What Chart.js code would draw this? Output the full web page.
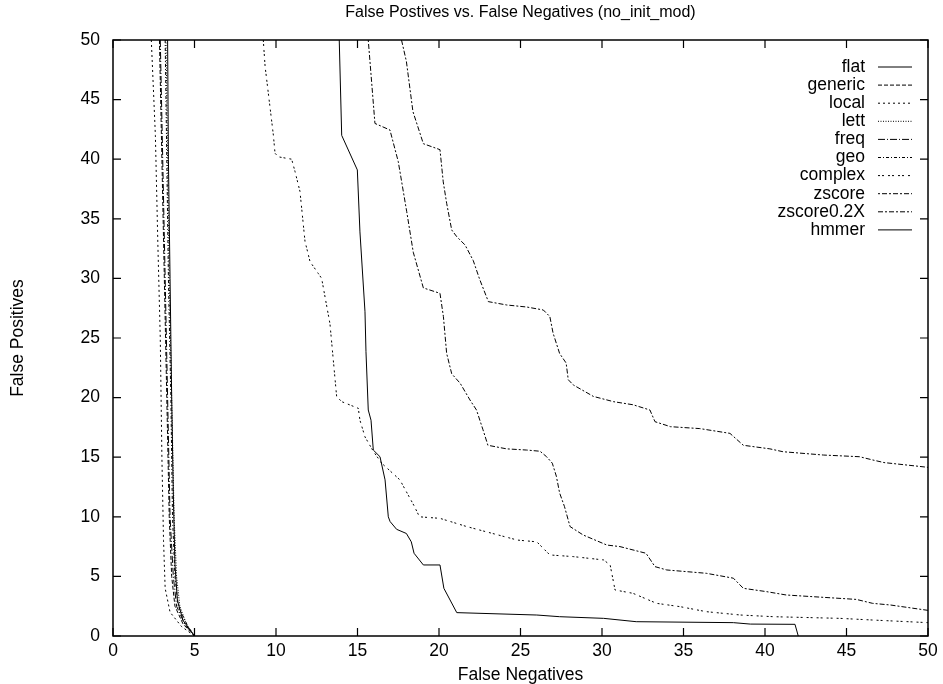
<!DOCTYPE html>
<html><head><meta charset="utf-8">
<script src="https://cdn.jsdelivr.net/npm/chart.js@4.4.1/dist/chart.umd.min.js"></script>
<style>html,body{margin:0;padding:0;background:#fff;}canvas{display:block;}</style>
</head><body>
<canvas id="c" width="943" height="684"></canvas>
<script>
// ---- data (False Negatives = x, False Positives = y) ----
const chartTitle = "False Postives vs. False Negatives (no_init_mod)";
const xAxisTitle = "False Negatives";
const yAxisTitle = "False Positives";
const tickValues = [0,5,10,15,20,25,30,35,40,45,50];

const flatFN = [3.35,3.4,3.5,3.6,3.7,3.8,3.95,4.3,5];
const flatFP = [50,40,30,20,12,6,3,1.3,0];
const genericFN = [2.85,3.0,3.15,3.3,3.45,3.6,3.8,4.3,5];
const genericFP = [50,40,30,20,10,5,2.5,1,0];
const localFN = [2.35,2.6,2.75,2.9,3.0,3.1,3.2,3.5,4.2,5];
const localFP = [50,42,33,25,15,8,4,2,0.8,0];
const lettFN = [3.25,3.35,3.45,3.6,3.75,3.9,4.1,4.5,5];
const lettFP = [50,40,30,20,10,5,2.5,1,0];
const freqFN = [2.9,3.05,3.2,3.35,3.5,3.7,3.9,4.4,5];
const freqFP = [50,40,30,20,10,5,2.5,1,0];
const geoFN = [3.2,3.3,3.4,3.55,3.65,3.8,4.0,4.6,5];
const geoFP = [50,40,30,20,10,5,2.5,0.8,0];
const complexFN = [9.22,9.33,9.84,9.94,10.14,10.96,11.17,11.47,11.78,12.09,12.6,12.8,13.31,13.72,14.03,15.05,15.15,15.46,15.97,16.48,17.6,18.5,18.8,20.06,21.7,24.8,26.0,26.8,28.24,30.1,30.5,30.8,31.9,33.35,34.8,36.4,38.5,40.5,44.6,46.6,50];
const complexFP = [50,47.8,42.0,40.5,40.2,40.0,38.95,37.3,33.1,31.4,30.4,30.0,26.2,20.1,19.66,19.1,18.1,16.7,15.5,14.5,13.1,10.85,10.0,9.87,9.18,8.05,7.9,6.8,6.66,6.38,5.96,3.86,3.58,2.74,2.46,2.04,1.76,1.62,1.48,1.34,1.12];
const zscoreFN = [15.66,16.07,16.99,17.5,18.02,18.42,19.04,20.06,20.27,20.47,20.78,21.3,21.9,22.3,22.7,23.0,24.15,25.38,26.2,26.6,26.95,27.2,27.4,27.7,28.04,28.85,30.3,31.1,32.7,33.25,33.97,36.4,38.06,38.67,40.1,41.3,45.6,46.6,47.7,50];
const zscoreFP = [50,43.0,42.45,39.8,35.6,32.2,29.2,28.75,26.8,23.7,22.0,21.2,19.8,18.96,17.3,16.0,15.7,15.6,15.5,15.04,14.5,13.4,12.0,10.85,9.18,8.47,7.63,7.5,6.94,5.82,5.54,5.26,4.85,4.0,3.72,3.44,3.07,2.74,2.6,2.15];
const zscore02FN = [17.7,18.0,18.4,19.04,20.06,20.26,20.47,20.78,21.09,21.6,22.1,22.5,23.03,24.15,25.38,26.4,26.8,27.0,27.4,27.8,27.93,28.24,29.47,30.7,31.9,32.94,33.25,34.2,36.0,37.85,38.67,40.3,41.1,43.6,45.8,46.6,47.3,50];
const zscore02FP = [50,48.2,44,41.3,40.8,38.1,36.3,34.06,33.5,32.8,31.5,29.9,28.05,27.77,27.6,27.35,26.8,25.4,23.7,22.9,21.5,21.06,20.1,19.66,19.4,18.96,17.98,17.56,17.4,17.0,16.0,15.7,15.46,15.18,15.04,14.77,14.55,14.15];
const hmmerFN = [13.88,14.03,14.99,15.15,15.46,15.52,15.66,15.83,15.97,16.38,16.69,16.89,17.0,17.4,18.0,18.3,18.47,19.04,20.06,20.3,21.09,26.0,27.4,30.1,32.1,38.06,39.1,41.84,42.04];
const hmmerFP = [50,42.0,39.1,33.9,27.2,23.85,18.96,18.1,15.6,15.04,13.1,10.0,9.6,8.95,8.6,7.9,6.94,5.96,5.96,4.0,1.96,1.76,1.62,1.48,1.2,1.12,1.0,0.98,0];

const seriesNames = ["flat","generic","local","lett","freq","geo","complex","zscore","zscore0.2X","hmmer"];
const seriesFN = [flatFN,genericFN,localFN,lettFN,freqFN,geoFN,complexFN,zscoreFN,zscore02FN,hmmerFN];
const seriesFP = [flatFP,genericFP,localFP,lettFP,freqFP,geoFP,complexFP,zscoreFP,zscore02FP,hmmerFP];

// ---- styles ----
const dashStyles = [[],[4,2],[2,3],[1,1.5],[7,2,1,2],[3,2,1,2],[2,2,2,4],[2,2,5,2],[5,2,2,2],[]];
const FONT = "'Liberation Sans', Arial, Helvetica, sans-serif";
const FS = 17.5;

const datasets = seriesNames.map((name,i)=>({
  label: name,
  data: seriesFN[i].map((x,j)=>({x:x, y:seriesFP[i][j]})),
  showLine: true,
  borderColor: '#000',
  borderWidth: 1,
  borderDash: dashStyles[i],
  pointRadius: 0,
  tension: 0,
  fill: false
}));

const framePlugin = {
  id: 'frame',
  afterDraw(chart){
    const ctx = chart.ctx;
    const a = chart.chartArea;
    const xs = chart.scales.x, ys = chart.scales.y;
    ctx.save();
    ctx.strokeStyle = '#000';
    ctx.setLineDash([]);
    ctx.lineWidth = 1.5;
    ctx.strokeRect(a.left, a.top, a.right - a.left, a.bottom - a.top);
    ctx.lineWidth = 1.2;
    const tl = 8;
    ctx.beginPath();
    tickValues.forEach(v=>{
      const px = xs.getPixelForValue(v);
      ctx.moveTo(px, a.bottom); ctx.lineTo(px, a.bottom - tl);
      ctx.moveTo(px, a.top); ctx.lineTo(px, a.top + tl);
      const py = ys.getPixelForValue(v);
      ctx.moveTo(a.left, py); ctx.lineTo(a.left + tl, py);
      ctx.moveTo(a.right, py); ctx.lineTo(a.right - tl, py);
    });
    ctx.stroke();
    // title
    ctx.fillStyle = '#000';
    ctx.font = '16px ' + FONT;
    ctx.textAlign = 'center';
    ctx.textBaseline = 'middle';
    ctx.fillText(chartTitle, (a.left + a.right)/2, 13);
    // legend
    ctx.font = FS + 'px ' + FONT;
    const textRight = 865, lineL = 878, lineR = 912, top0 = 67, step = 18.1;
    ctx.textAlign = 'right';
    chart.data.datasets.forEach((ds,i)=>{
      const y = top0 + i*step;
      ctx.fillText(ds.label, textRight, y);
      ctx.beginPath();
      ctx.lineWidth = 1;
      ctx.setLineDash(ds.borderDash || []);
      ctx.moveTo(lineL, y); ctx.lineTo(lineR, y);
      ctx.stroke();
    });
    ctx.restore();
  }
};

new Chart(document.getElementById('c'), {
  type: 'scatter',
  data: { datasets },
  options: {
    responsive: false,
    animation: false,
    devicePixelRatio: 1,
    layout: { padding: { top: 40, right: 15, bottom: 0, left: 0 } },
    plugins: { legend: { display: false }, title: { display: false }, tooltip: { enabled: false } },
    scales: {
      x: {
        type: 'linear', min: 0, max: 50,
        afterFit(s){ s.height = 48; },
        afterBuildTicks(s){ s.ticks = tickValues.map(v=>({value:v})); },
        grid: { display: false, drawTicks: false },
        border: { display: false },
        ticks: { color: '#000', padding: 5, font: { family: FONT, size: FS }, maxRotation: 0 },
        title: { display: true, text: xAxisTitle, color: '#000', font: { family: FONT, size: FS, lineHeight: 1 }, padding: { top: 0, bottom: 0 } }
      },
      y: {
        type: 'linear', min: 0, max: 50,
        afterFit(s){ s.width = 113; },
        afterBuildTicks(s){ s.ticks = tickValues.map(v=>({value:v})); },
        grid: { display: false, drawTicks: false },
        border: { display: false },
        ticks: { color: '#000', padding: 13, font: { family: FONT, size: FS } },
        title: { display: true, text: yAxisTitle, color: '#000', font: { family: FONT, size: FS, lineHeight: 1 }, padding: { top: 9, bottom: 0 } }
      }
    }
  },
  plugins: [framePlugin]
});
</script>
</body></html>
